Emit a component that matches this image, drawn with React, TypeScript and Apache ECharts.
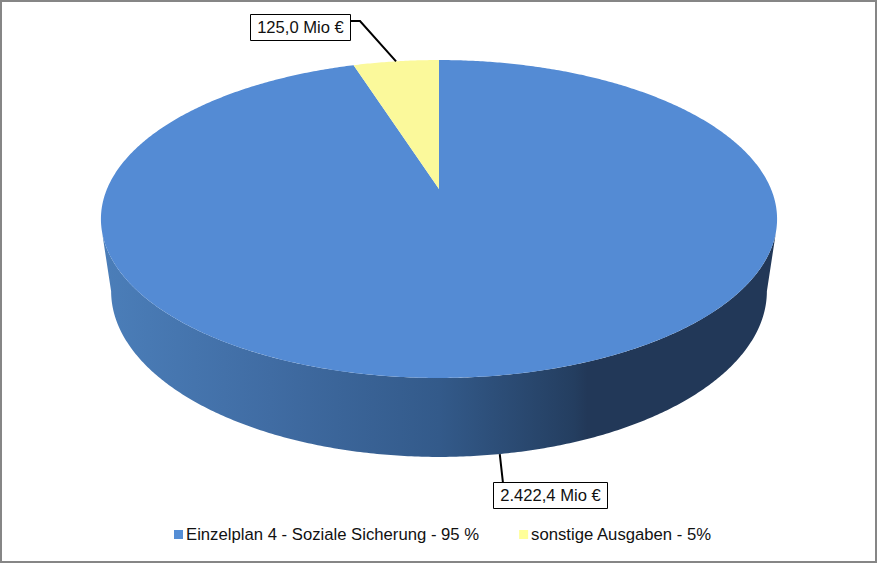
import React, { useEffect, useRef } from "react";
import * as echarts from "echarts";

const sliceNames = ["Einzelplan 4 - Soziale Sicherung - 95 %", "sonstige Ausgaben - 5%"];
const sliceValues = [2422.4, 125.0];
const sliceLabels = ["2.422,4 Mio €", "125,0 Mio €"];
const topColors = ["#548BD4", "#FBF99B"];
const legendColors = ["#558ED5", "#FFFF99"];

const total = sliceValues.reduce((a, b) => a + b, 0);
const FONT = "Liberation Sans";

// perspective projection of the disc rims: θ clockwise from 12 o'clock, in degrees
const K = -0.1887;
const topRim = { cx: 439, cy: 189, a: 332, b: 153.3 };
const bottomRim = { cx: 439, cy: 259.7, a: 322, b: 160 };
function project(rim: typeof topRim, theta: number, r = 1): number[] {
  const t = (theta * Math.PI) / 180;
  const u = r * Math.sin(t);
  const v = -r * Math.cos(t);
  const d = 1 + K * v;
  return [rim.cx + (rim.a * u) / d, rim.cy + (rim.b * v) / d];
}
function arc(rim: typeof topRim, from: number, to: number): number[][] {
  const n = Math.max(2, Math.ceil(Math.abs(to - from) * 2));
  const pts: number[][] = [];
  for (let i = 0; i <= n; i++) pts.push(project(rim, from + ((to - from) * i) / n));
  return pts;
}

const labelBoxes = [
  { x: 493, y: 482, width: 114, height: 26, elbow: [513, 483], knee: [503, 483] },
  { x: 250, y: 14, width: 100, height: 26, elbow: [350, 21], knee: [360, 21] },
];

const wallGradient = {
  type: "linear",
  x: 0,
  y: 0,
  x2: 1,
  y2: 0,
  colorStops: [
    { offset: 0, color: "#4B7EB9" },
    { offset: 0.25, color: "#406CA3" },
    { offset: 0.5, color: "#335A8A" },
    { offset: 0.7, color: "#243E60" },
    { offset: 0.72, color: "#223858" },
    { offset: 1, color: "#223858" },
  ],
};

function renderSlice(index: number) {
  return (_params: any, api: any) => {
    const value = api.value(0) as number;
    const before = sliceValues.slice(0, index).reduce((a, b) => a + b, 0);
    const start = (before / total) * 360;
    const end = ((before + value) / total) * 360;
    const mid = (start + end) / 2;
    const children: any[] = [];

    const wallFrom = Math.max(start, 105);
    const wallTo = Math.min(end, 255);
    if (wallTo > wallFrom) {
      const pts = [
        ...arc(topRim, wallFrom, wallTo),
        ...arc(bottomRim, Math.min(end, 259), Math.max(start, 101)),
      ];
      children.push({ type: "polygon", shape: { points: pts }, style: { fill: wallGradient } });
    }

    const top = [project(topRim, 0, 0), ...arc(topRim, start, end)];
    children.push({ type: "polygon", shape: { points: top }, style: { fill: topColors[index] } });

    const box = labelBoxes[index];
    const anchor = mid > 105 && mid < 255 ? project(bottomRim, mid) : project(topRim, mid);
    children.push({
      type: "polyline",
      shape: { points: [anchor, box.knee, box.elbow] },
      style: { stroke: "#000", lineWidth: 2, fill: "none" },
    });
    children.push({
      type: "rect",
      shape: { x: box.x + 0.5, y: box.y + 0.5, width: box.width, height: box.height },
      style: { fill: "#fff", stroke: "#000", lineWidth: 1 },
    });
    children.push({
      type: "text",
      style: {
        x: box.x + box.width / 2 + 0.5,
        y: box.y + box.height / 2 + 0.5,
        text: sliceLabels[index],
        fill: "#111",
        font: `16.6px "${FONT}"`,
        align: "center",
        verticalAlign: "middle",
      },
    });
    return { type: "group", children };
  };
}

export default function App() {
  const ref = useRef<HTMLDivElement>(null);
  useEffect(() => {
    document.body.style.margin = "0";
    const chart = echarts.init(ref.current!, undefined, { renderer: "svg" });
    chart.setOption({
      animation: false,
      backgroundColor: "#fff",
      legend: {
        left: 174,
        top: 526,
        itemWidth: 9,
        itemHeight: 9,
        itemGap: 40,
        padding: 0,
        textStyle: { fontFamily: FONT, fontSize: 16.7, color: "#111", padding: [0, 0, 0, -2] },
        data: sliceNames.map((name, i) => ({
          name,
          icon: "rect",
          itemStyle: { color: legendColors[i] },
        })),
      },
      graphic: [
        {
          type: "rect",
          z: -1,
          shape: { x: 1, y: 1, width: 875, height: 561 },
          style: { fill: "#fff", stroke: "#868686", lineWidth: 2 },
        },
      ],
      series: sliceNames.map((name, i) => ({
        type: "custom",
        name,
        coordinateSystem: "none",
        itemStyle: { color: legendColors[i] },
        data: [[sliceValues[i]]],
        renderItem: renderSlice(i),
      })),
    });
    return () => chart.dispose();
  }, []);
  return <div ref={ref} style={{ width: 877, height: 563 }} />;
}
